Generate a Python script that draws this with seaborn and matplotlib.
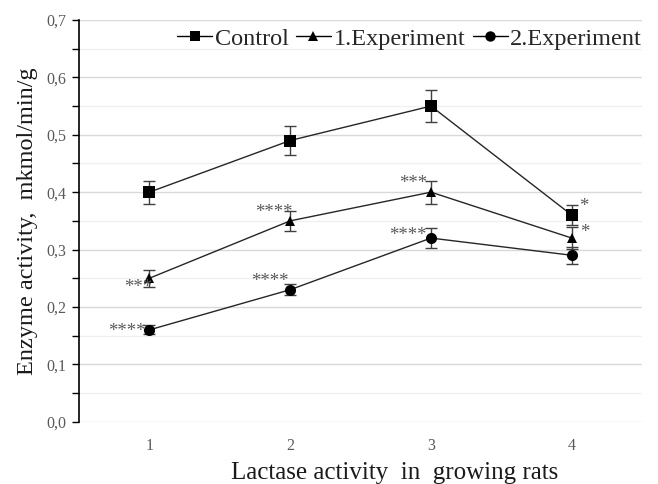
import matplotlib
matplotlib.use("Agg")
import matplotlib.pyplot as plt
import seaborn as sns
import pandas as pd
import numpy as np
from matplotlib.ticker import MultipleLocator, FuncFormatter
from matplotlib.lines import Line2D

# ---- data ----
stages = [1, 2, 3, 4]
control = [0.40, 0.49, 0.55, 0.36]
control_err = [0.02, 0.025, 0.028, 0.018]
exp1 = [0.25, 0.35, 0.40, 0.32]
exp1_err = [0.015, 0.017, 0.02, 0.019]
exp2 = [0.16, 0.23, 0.32, 0.29]
exp2_err = [0.008, 0.01, 0.017, 0.015]
series_names = ["Control", "1.Experiment", "2.Experiment"]
marks_exp1 = ["***", "****", "***", "*"]
marks_exp2 = ["****", "****", "****", ""]
marks_ctrl = ["", "", "", "*"]
yticks = [0.0, 0.1, 0.2, 0.3, 0.4, 0.5, 0.6, 0.7]

df = pd.DataFrame({
    "stage": stages * 3,
    "value": control + exp1 + exp2,
    "err": control_err + exp1_err + exp2_err,
    "group": [n for n in series_names for _ in stages],
})

sns.set_theme(style="white")
plt.rcParams["font.family"] = ["Liberation Serif", "DejaVu Serif"]

fig = plt.figure(figsize=(6.58, 4.84), dpi=100)
ax = fig.add_axes([0.12, 0.1287, 0.856, 0.83])

markers = {"Control": "s", "1.Experiment": "^", "2.Experiment": "o"}
msize = {"Control": 8, "1.Experiment": 7.5, "2.Experiment": 8}
for name in series_names:
    sub = df[df.group == name]
    ax.errorbar(sub.stage, sub.value, yerr=sub.err, fmt="none", ecolor="#404040",
                elinewidth=1, capsize=4, capthick=1, zorder=2)

sns.lineplot(data=df, x="stage", y="value", hue="group", style="group",
             markers=markers, dashes=False, palette=["#000000"] * 3,
             linewidth=1, ax=ax, legend=False, zorder=3, markeredgewidth=0)
for line, name in zip(ax.get_lines()[-3:], series_names):
    line.set_markersize(msize[name])
    line.set_color("#262626")
    line.set_markerfacecolor("black")

# significance marks (offsets in points relative to each marker)
star_kw = dict(fontsize=13.5, color="#595959", va="center")
offs_exp1 = [(2, -7, "right"), (2, 6, "right"), (-3, 6, "right"), (6, 4, "left")]
offs_exp2 = [(-3, -1, "right"), (-1, 6, "right"), (-3, 2, "right"), (0, 0, "right")]
offs_ctrl = [(0, 0, "left"), (0, 0, "left"), (0, 0, "left"), (5, 6, "left")]
for vals, marks, offs in [(exp1, marks_exp1, offs_exp1), (exp2, marks_exp2, offs_exp2),
                          (control, marks_ctrl, offs_ctrl)]:
    for s, v, m, (dx, dy, ha) in zip(stages, vals, marks, offs):
        if m:
            ax.annotate(m, (s, v), xytext=(dx, dy), textcoords="offset points", ha=ha, **star_kw)

ax.set_xlim(0.5, 4.5)
ax.set_ylim(0, 0.7)
ax.set_xticks(stages)
ax.set_xticklabels([str(s) for s in stages])
ax.set_yticks(yticks)
ax.yaxis.set_major_formatter(FuncFormatter(lambda v, p: f"{v:.1f}".replace(".", ",")))
ax.yaxis.set_minor_locator(MultipleLocator(0.05))
ax.grid(axis="y", which="major", color="#d9d9d9", linewidth=1)
ax.grid(axis="y", which="minor", color="#f0f0f0", linewidth=1)
ax.set_axisbelow(True)
for sp in ["top", "right", "bottom"]:
    ax.spines[sp].set_visible(False)
ax.spines["left"].set_color("black")
ax.spines["left"].set_linewidth(1.2)
ax.tick_params(axis="y", which="major", direction="out", length=5, width=1, color="black",
               labelsize=11.5, labelcolor="#595959", pad=4, left=True)
ax.tick_params(axis="y", which="minor", direction="out", length=5, width=1, color="black", left=True)
ax.tick_params(axis="x", length=0, labelsize=11.5, labelcolor="#595959", pad=12)

ax.set_xlabel("Lactase activity  in  growing rats", fontsize=18, color="#1a1a1a")
ax.xaxis.set_label_coords(0.56, -0.1)
ax.set_ylabel("Enzyme activity,  mkmol/min/g", fontsize=17.5, color="#1a1a1a", labelpad=6)

handles = [Line2D([], [], color="black", lw=1, marker=markers[n], markersize=msize[n] - 0.5,
                  markerfacecolor="black", markeredgewidth=0) for n in series_names]
ax.legend(handles, series_names, loc="center left", bbox_to_anchor=(0.174, 0.953), ncol=3,
          frameon=False, fontsize=17.5, handlelength=1.45, handletextpad=0.1, columnspacing=0.3,
          borderaxespad=0.0, borderpad=0.0)

fig.savefig("out.png", dpi=100)
